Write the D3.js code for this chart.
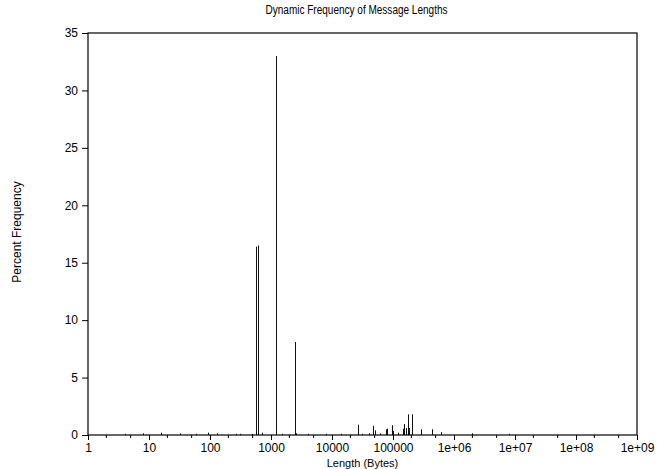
<!DOCTYPE html>
<html>
<head>
<meta charset="utf-8">
<script src="https://cdn.jsdelivr.net/npm/d3@7"></script>
<style>
  body { margin: 0; background: #fff; }
  text { font-family: "Liberation Sans", Arial, sans-serif; fill: #000; }
</style>
</head>
<body>
<div id="viz"></div>
<script>
// message lengths (bytes) and percent frequency
var lengths = [4, 8, 16, 32, 60, 92, 128, 270, 310, 490, 576, 620, 720, 1200, 1500, 2440, 2600, 4000, 8000, 14000,
  26800, 31000, 40000, 47000, 51000, 62000, 76000, 80000, 97000, 101000, 120000, 145000, 152000, 165000, 176000,
  182000, 204000, 208000, 285000, 430000, 620000, 2000000, 7900000];
var percents = [0.1, 0.15, 0.2, 0.15, 0.1, 0.2, 0.15, 0.1, 0.1, 0.1, 16.4, 16.5, 0.2, 33.0, 0.1, 8.1, 0.15, 0.1, 0.1, 0.1,
  0.9, 0.1, 0.15, 0.8, 0.4, 0.15, 0.5, 0.55, 0.85, 0.35, 0.2, 0.55, 0.95, 0.6, 1.8,
  0.6, 1.8, 0.6, 0.5, 0.5, 0.25, 0.15, 0.1];
var xTicks = [1, 10, 100, 1000, 10000, 100000, 1e6, 1e7, 1e8, 1e9];
var xTickLabels = ["1", "10", "100", "1000", "10000", "100000", "1e+06", "1e+07", "1e+08", "1e+09"];
var yTicks = [0, 5, 10, 15, 20, 25, 30, 35];

var data = lengths.map((l, i) => ({ len: l, pct: percents[i] }));

// set the dimensions and margins of the graph
var margin = { top: 33, right: 20, bottom: 34, left: 88 },
    width = 657 - margin.left - margin.right,
    height = 469 - margin.top - margin.bottom;

var svg = d3.select("#viz")
  .append("svg")
  .attr("width", 657)
  .attr("height", 469)
  .append("g")
  .attr("transform", "translate(" + margin.left + "," + margin.top + ")");

var xScale = d3.scaleLog().domain([1, 1e9]).range([0, width]),
    yScale = d3.scaleLinear().domain([0, 35]).range([height, 0]);

// minor ticks at 2 and 5 of every decade
var minorTicks = [];
xTicks.slice(0, -1).forEach(t => { minorTicks.push(2 * t, 5 * t); });

// bars as thin vertical lines
svg.selectAll(".bar")
  .data(data)
  .enter().append("line")
  .attr("class", "bar")
  .attr("x1", d => Math.round(xScale(d.len)) + 0.5)
  .attr("x2", d => Math.round(xScale(d.len)) + 0.5)
  .attr("y1", yScale(0))
  .attr("y2", d => yScale(d.pct))
  .attr("stroke", "#111")
  .attr("stroke-width", 1);

// frame
svg.append("rect")
  .attr("x", 0).attr("y", 0)
  .attr("width", width).attr("height", height)
  .attr("fill", "none")
  .attr("stroke", "#000")
  .attr("stroke-width", 1.2);

// x axis
var xAxis = d3.axisBottom(xScale)
  .tickValues(xTicks)
  .tickFormat((d, i) => xTickLabels[i])
  .tickSize(5)
  .tickPadding(3);
var gx = svg.append("g")
  .attr("transform", "translate(0," + height + ")")
  .call(xAxis);
gx.select(".domain").remove();
gx.selectAll("text").style("font-size", "12px");

svg.append("g")
  .attr("transform", "translate(0," + height + ")")
  .selectAll("line")
  .data(minorTicks)
  .enter().append("line")
  .attr("x1", d => xScale(d)).attr("x2", d => xScale(d))
  .attr("y1", 0).attr("y2", 3)
  .attr("stroke", "#000");

// y axis
var yAxis = d3.axisLeft(yScale)
  .tickValues(yTicks)
  .tickSize(6)
  .tickPadding(4);
var gy = svg.append("g").call(yAxis);
gy.select(".domain").remove();
gy.selectAll("text").style("font-size", "12px");

// title
svg.append("text")
  .attr("x", width / 2 - 6)
  .attr("y", -19)
  .style("text-anchor", "middle")
  .style("font-size", "12px")
  .attr("textLength", 182)
  .attr("lengthAdjust", "spacingAndGlyphs")
  .text("Dynamic Frequency of Message Lengths");

// x-axis label
svg.append("text")
  .attr("x", width / 2)
  .attr("y", height + 32)
  .style("text-anchor", "middle")
  .style("font-size", "11px")
  .text("Length (Bytes)");

// y-axis label
svg.append("text")
  .attr("transform", "rotate(-90)")
  .attr("x", -(height / 2) + 2)
  .attr("y", -margin.left + 21)
  .style("text-anchor", "middle")
  .style("font-size", "12px")
  .text("Percent Frequency");
</script>
</body>
</html>
